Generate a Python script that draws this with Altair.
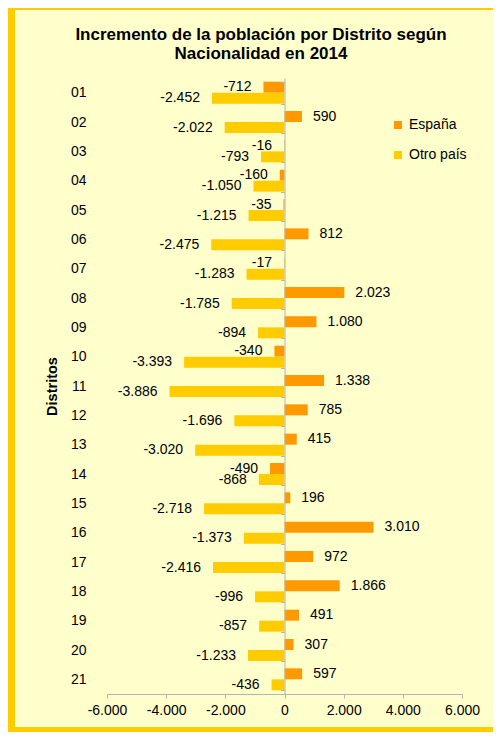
import altair as alt
import pandas as pd

districts = ["01", "02", "03", "04", "05", "06", "07", "08", "09", "10", "11",
             "12", "13", "14", "15", "16", "17", "18", "19", "20", "21"]
espana = [-712, 590, -16, -160, -35, 812, -17, 2023, 1080, -340, 1338,
          785, 415, -490, 196, 3010, 972, 1866, 491, 307, 597]
otro_pais = [-2452, -2022, -793, -1050, -1215, -2475, -1283, -1785, -894, -3393, -3886,
             -1696, -3020, -868, -2718, -1373, -2416, -996, -857, -1233, -436]
series = ["España", "Otro país"]
colors = ["#FF9900", "#FFCC00"]
x_ticks = [-6000, -4000, -2000, 0, 2000, 4000, 6000]
title_lines = ["Incremento de la población por Distrito según", "Nacionalidad en 2014"]

rows = []
for d, e, o in zip(districts, espana, otro_pais):
    rows.append({"Distrito": d, "Serie": series[0], "Valor": e})
    rows.append({"Distrito": d, "Serie": series[1], "Valor": o})
df = pd.DataFrame(rows)

FONT = "Liberation Sans"
W, H = 355, 616
PAD = {"left": 99, "top": 70, "right": 31, "bottom": 38}

y_enc = alt.Y(
    "Distrito:N", sort=districts,
    scale=alt.Scale(paddingInner=0.25, paddingOuter=0.125),
    axis=alt.Axis(
        title="Distritos", offset=-177.5, tickBand="extent", tickSize=4,
        labelPadding=194.5, domainColor="#B4B4B4", tickColor="#B4B4B4",
        labelFontSize=14, labelColor="#000000", labelFont=FONT,
        titleFontSize=14.5, titleFontWeight="bold", titleFont=FONT,
        titleColor="#000000", titlePadding=25, zindex=1,
    ),
)
yoff = alt.YOffset("Serie:N", sort=series, scale=alt.Scale(paddingInner=0, paddingOuter=0))
x_enc = alt.X(
    "Valor:Q",
    scale=alt.Scale(domain=[-6000, 6000], nice=False),
    axis=alt.Axis(
        values=x_ticks, format=",.0f", title=None, grid=False,
        domainColor="#B4B4B4", tickColor="#B4B4B4", tickSize=4,
        labelFontSize=14, labelColor="#000000", labelFont=FONT, labelPadding=5,
        labelOverlap=False, labelFlush=False, zindex=1,
    ),
)
color_enc = alt.Color(
    "Serie:N", sort=series,
    scale=alt.Scale(domain=series, range=colors),
    legend=alt.Legend(
        title=None, orient="none", legendX=284, legendY=40,
        symbolType="square", symbolSize=64, symbolStrokeWidth=0,
        labelFontSize=14, labelFont=FONT, labelColor="#000000",
        rowPadding=16, labelOffset=4,
    ),
)

base = alt.Chart(df)
one = pd.DataFrame({"k": [0]})

panel = alt.Chart(one).mark_rect(color="#FFFFCC").encode(
    x=alt.value(-92), x2=alt.value(400), y=alt.value(-68), y2=alt.value(649)
)

title1 = alt.Chart(one).mark_text(
    fontSize=17, fontWeight="bold", font=FONT, color="#000000",
    align="center", baseline="middle",
).encode(x=alt.value(154), y=alt.value(-43), text=alt.value(title_lines[0]))
title2 = alt.Chart(one).mark_text(
    fontSize=17, fontWeight="bold", font=FONT, color="#000000",
    align="center", baseline="middle",
).encode(x=alt.value(154), y=alt.value(-24), text=alt.value(title_lines[1]))

bars = base.mark_bar().encode(x=x_enc, y=y_enc, yOffset=yoff, color=color_enc)

lab_pos = base.transform_filter("datum.Valor >= 0").mark_text(
    align="left", baseline="middle", dx=11, fontSize=14, font=FONT, color="#000000"
).encode(x="Valor:Q", y=alt.Y("Distrito:N", sort=districts), yOffset=yoff,
         text=alt.Text("Valor:Q", format=",.0f"))

lab_neg = base.transform_filter("datum.Valor < 0").mark_text(
    align="right", baseline="middle", dx=-12, fontSize=14, font=FONT, color="#000000"
).encode(x="Valor:Q", y=alt.Y("Distrito:N", sort=districts), yOffset=yoff,
         text=alt.Text("Valor:Q", format=",.0f"))

chart = alt.layer(panel, title1, title2, bars, lab_pos, lab_neg).properties(
    width=W, height=H, padding=PAD,
    autosize=alt.AutoSizeParams(type="none"),
    background="#FFCC00",
).configure(
    font=FONT,
    locale={"number": {"decimal": ",", "thousands": ".", "grouping": [3],
                       "currency": ["", " €"], "minus": "-"}},
).configure_view(stroke=None)

chart.save("out.html", embed_options={"renderer": "svg", "actions": False})
